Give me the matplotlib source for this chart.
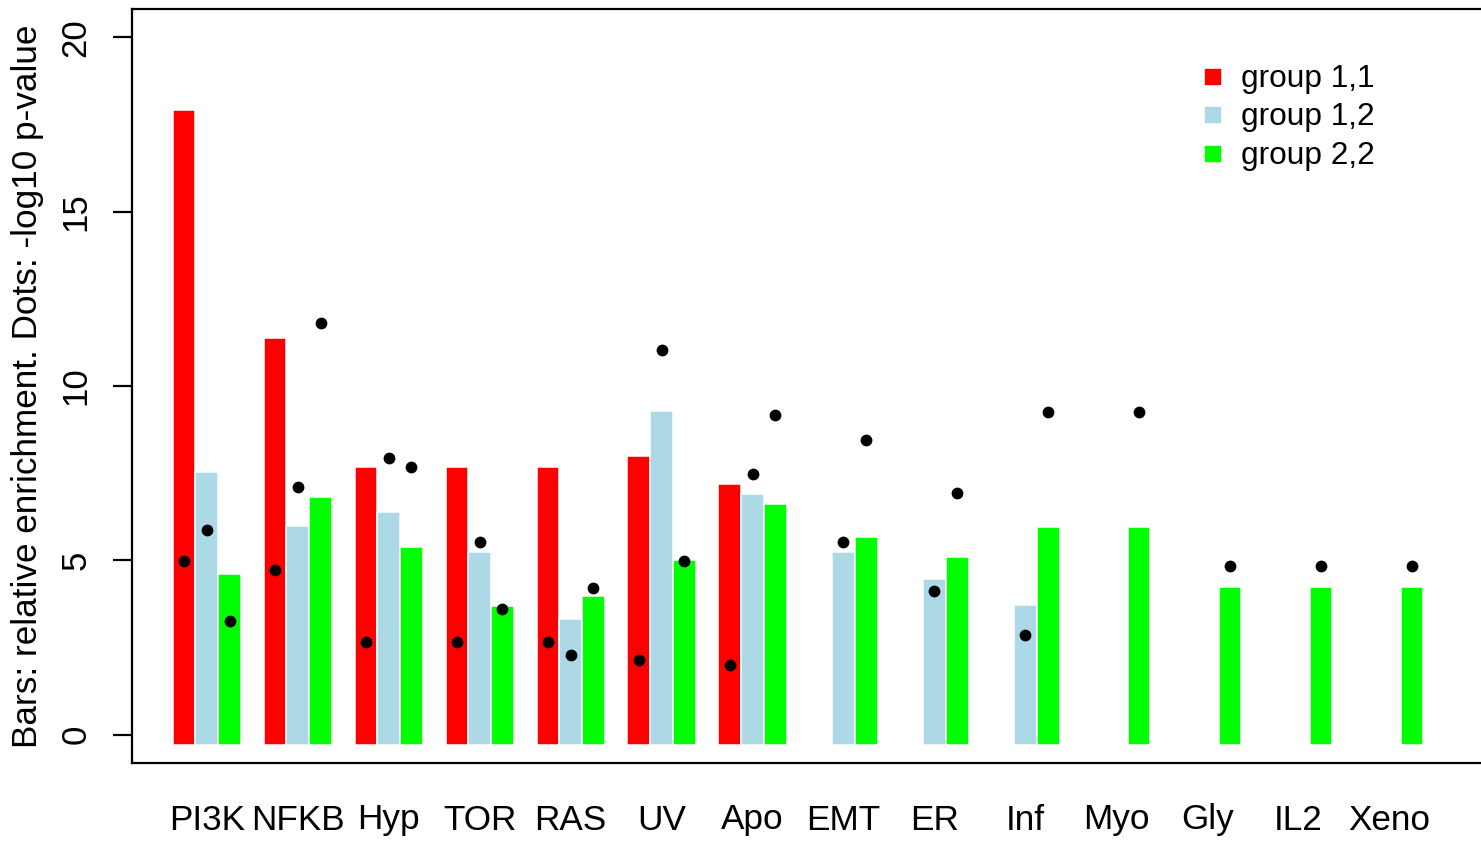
import numpy as np
import matplotlib
import matplotlib.pyplot as plt
from matplotlib.lines import Line2D
from matplotlib.transforms import blended_transform_factory

matplotlib.use('Agg')
plt.rcParams['font.family'] = ['Liberation Sans', 'DejaVu Sans']

nan = np.nan

# pathway categories
categories = ['PI3K', 'NFKB', 'Hyp', 'TOR', 'RAS', 'UV', 'Apo', 'EMT', 'ER', 'Inf', 'Myo', 'Gly', 'IL2', 'Xeno']
group_names = ['group 1,1', 'group 1,2', 'group 2,2']
group_colors = ['#FF0000', '#ADD8E6', '#00FF00']

# bars: relative enrichment
bars_11 = [17.9, 11.39, 7.69, 7.69, 7.69, 8.00, 7.18, nan, nan, nan, nan, nan, nan, nan]
bars_12 = [7.53, 5.99, 6.38, 5.24, 3.32, 9.28, 6.90, 5.24, 4.46, 3.71, nan, nan, nan, nan]
bars_22 = [4.60, 6.81, 5.39, 3.69, 3.97, 5.01, 6.62, 5.67, 5.10, 5.95, 5.95, 4.25, 4.25, 4.25]

# dots: -log10 p-value
dots_11 = [4.98, 4.73, 2.65, 2.65, 2.65, 2.14, 2.01, nan, nan, nan, nan, nan, nan, nan]
dots_12 = [5.87, 7.10, 7.93, 5.54, 2.28, 11.04, 7.47, 5.54, 4.12, 2.85, nan, nan, nan, nan]
dots_22 = [3.25, 11.80, 7.68, 3.60, 4.20, 4.99, 9.18, 8.46, 6.93, 9.26, 9.26, 4.84, 4.84, 4.84]

bar_series = [bars_11, bars_12, bars_22]
dot_series = [dots_11, dots_12, dots_22]
bar_base = -0.3

fig = plt.figure(figsize=(14.81, 8.41), dpi=100)
ax = fig.add_axes([132 / 1481, 1 - 762.7 / 841, 1360 / 1481, (762.7 - 9.3) / 841])

n = len(categories)
group_left = np.arange(n) * 4 + 1  # R-style barplot: 3 bars + 1 space per group
for k in range(3):
    vals = np.array(bar_series[k], dtype=float)
    x = group_left + k + 0.5
    ok = ~np.isnan(vals)
    ax.bar(x[ok], vals[ok] - bar_base, bottom=bar_base, width=1.0,
           color=group_colors[k], edgecolor='white', linewidth=1.1, zorder=2)
    dv = np.array(dot_series[k], dtype=float)
    okd = ~np.isnan(dv)
    ax.scatter(x[okd], dv[okd], s=72, color='black', linewidths=0, zorder=3)

ax.set_xlim(-0.79, 59.02)
ax.set_ylim(-0.8, 20.8)

ax.spines['right'].set_visible(False)
for side in ['left', 'top', 'bottom']:
    ax.spines[side].set_linewidth(1.6)

ax.set_xticks([])
ax.set_yticks([0, 5, 10, 15, 20])
ax.tick_params(axis='y', length=13.5, width=1.6, labelsize=25, pad=15, labelrotation=90)
for lab in ax.get_yticklabels():
    lab.set_va('center')

# category labels below the plot box
trans = blended_transform_factory(ax.transData, fig.transFigure)
for i, c in enumerate(categories):
    ax.text(group_left[i] + 1.5, 1 - 820 / 841, c, transform=trans, ha='center', va='center',
            fontsize=25.3, clip_on=False)

fig.text(28 / 1481, 1 - 386 / 841, 'Bars: relative enrichment. Dots: -log10 p-value',
         rotation=90, ha='center', va='center', fontsize=25.3)

handles = [Line2D([0], [0], marker='s', linestyle='none', markersize=10.8,
                  markerfacecolor=c, markeredgecolor=c) for c in group_colors]
ax.legend(handles, group_names, loc='upper left', bbox_to_anchor=(1185 / 1481, 1 - 48 / 841),
          bbox_transform=fig.transFigure, frameon=False, fontsize=22.8, handlelength=0.7,
          handletextpad=0.58, labelspacing=0.27, borderpad=0)

plt.savefig('out.png', dpi=100)
plt.close()
